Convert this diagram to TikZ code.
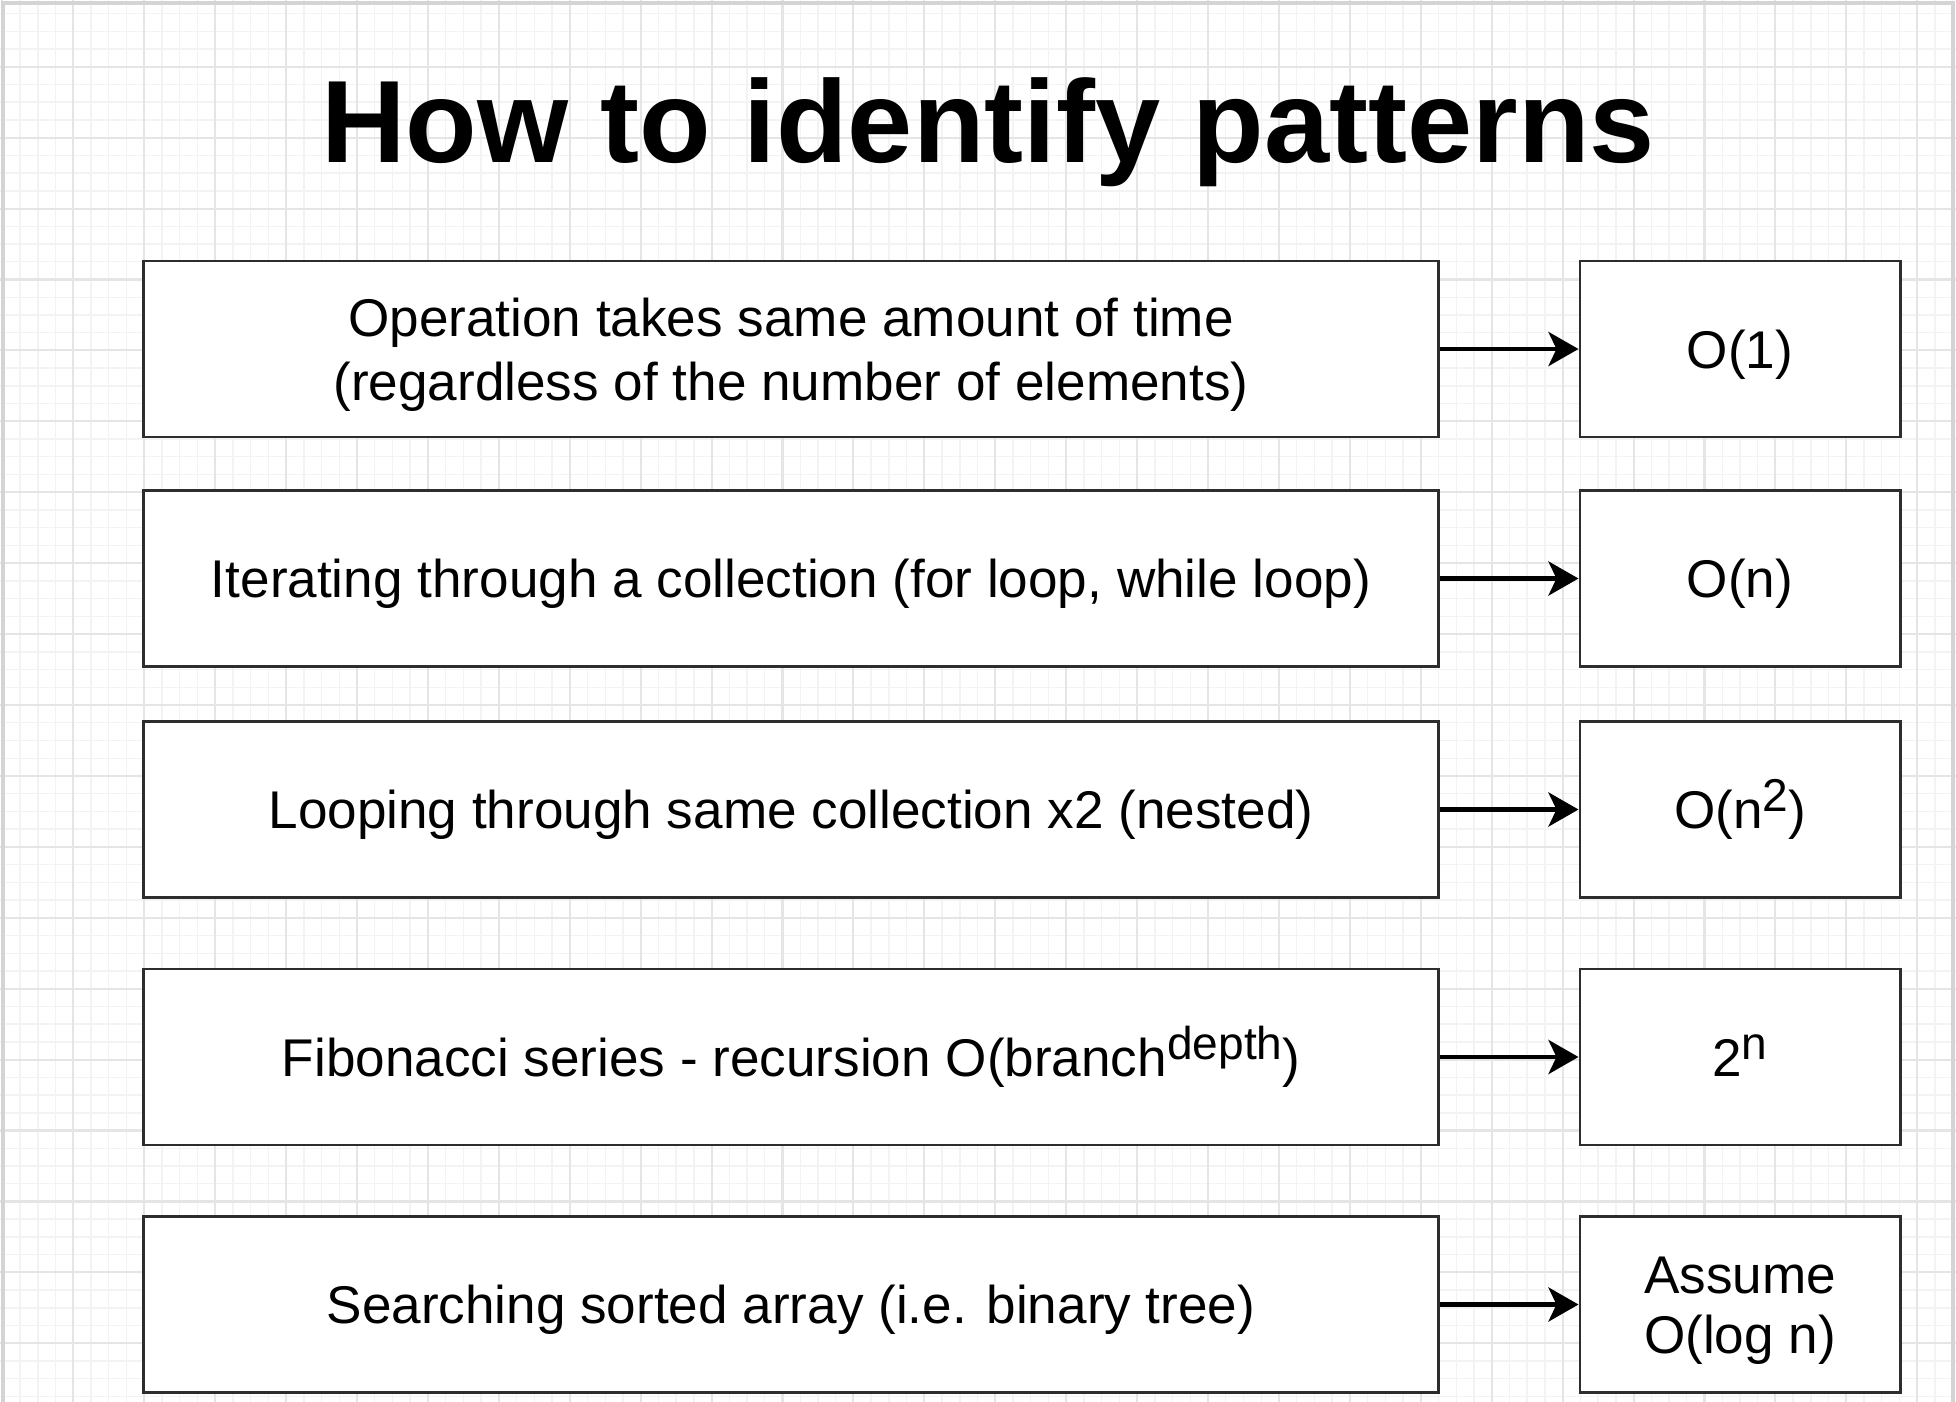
\documentclass[tikz,border=0pt]{standalone}
\usepackage{fontspec}
\setmainfont{Liberation Sans}
\usetikzlibrary{arrows.meta}
\definecolor{gridmajor}{RGB}{229,229,229}
\definecolor{gridminor}{RGB}{243,243,243}
\definecolor{framegray}{RGB}{212,212,212}
\definecolor{boxline}{RGB}{45,45,45}
\newcommand{\supr}[1]{\raisebox{4.8pt}{\fontsize{13.1}{15}\selectfont #1}}
\newcommand{\topstrut}{\rule{0pt}{0.54cm}}

\begin{document}
\begin{tikzpicture}[
  x=0.01cm, y=-0.01cm,
  lbox/.style={draw=boxline, line width=0.8pt, fill=white,
    minimum width=12.94cm, minimum height=1.76cm, inner sep=0pt,
    font=\fontsize{15.1}{18.2}\selectfont,
    execute at begin node={\topstrut},
    execute at end node={\rule[-0.16cm]{0pt}{0pt}}},
  rbox/.style={lbox, minimum width=3.2cm,
    font=\fontsize{15.1}{17.2}\selectfont},
  arr/.style={-{Stealth[length=0.3cm, width=0.34cm, inset=0.08cm]},
    line width=1.35pt, color=black},
  heading/.style={font=\fontsize{33.3}{40}\selectfont\bfseries},
  every node/.style={align=center}
]
  \useasboundingbox (0,0) rectangle (1956,1402);

  % background grid
  \begin{scope}
    \clip (0,0) rectangle (1956,1402);
    \fill[white] (0,0) rectangle (1956,1402);
    \foreach \k in {0,...,110}
      \draw[gridminor, line width=0.4pt] ({2.4+17.73*\k},0) -- ({2.4+17.73*\k},1402);
    \foreach \k in {0,...,80}
      \draw[gridminor, line width=0.4pt] (0,{-4.2+17.73*\k}) -- (1956,{-4.2+17.73*\k});
    \foreach \k in {0,4,...,108}
      \draw[gridmajor, line width=0.6pt] ({2.4+17.73*\k},0) -- ({2.4+17.73*\k},1402);
    \foreach \k in {0,4,...,80}
      \draw[gridmajor, line width=0.6pt] (0,{-4.2+17.73*\k}) -- (1956,{-4.2+17.73*\k});
    \draw[framegray, line width=1pt] (3,3) rectangle (1953,1430);
  \end{scope}

  \node[heading, anchor=base] (ttl) at (988,162) {How to identify patterns};

  \node[lbox] (p1) at (791,349)    {\topstrut Operation takes same amount of time\\(regardless of the number of elements)};
  \node[lbox] (p2) at (791,578.5)  {Iterating through a collection (for loop, while loop)};
  \node[lbox] (p3) at (791,809.5)  {Looping through same collection x2 (nested)};
  \node[lbox] (p4) at (791,1057)   {Fibonacci series - recursion O(branch\supr{depth})};
  \node[lbox] (p5) at (791,1304.5) {Searching sorted array (i.e. binary tree)};

  \node[rbox] (c1) at (1740,349)    {O(1)};
  \node[rbox] (c2) at (1740,578.5)  {O(n)};
  \node[rbox] (c3) at (1740,809.5)  {O(n\supr{2})};
  \node[rbox] (c4) at (1740,1057)   {2\supr{n}};
  \node[rbox] (c5) at (1740,1304.5) {\topstrut Assume\\O(log n)};

  \draw[arr] (p1) -- (c1);
  \draw[arr] (p2) -- (c2);
  \draw[arr] (p3) -- (c3);
  \draw[arr] (p4) -- (c4);
  \draw[arr] (p5) -- (c5);
\end{tikzpicture}
\end{document}
